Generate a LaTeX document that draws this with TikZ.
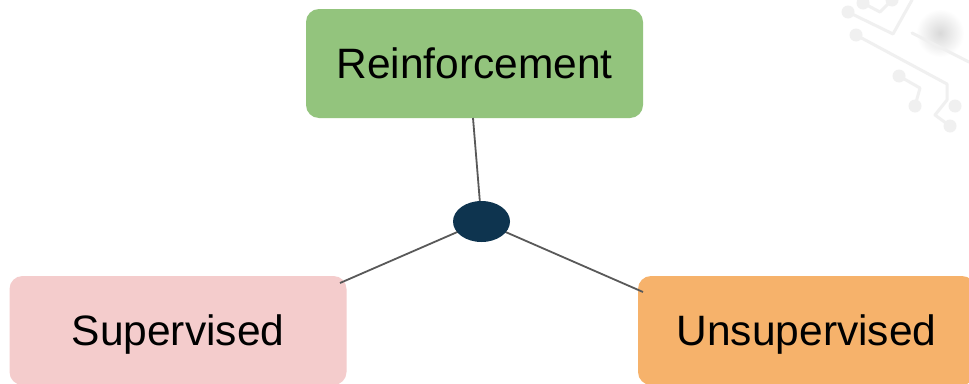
\documentclass[tikz,border=0pt]{standalone}
\usepackage{fontspec}
\setmainfont{Liberation Sans}
\usetikzlibrary{shapes.geometric}
\definecolor{rgreen}{HTML}{93C47D}
\definecolor{spink}{HTML}{F4CCCC}
\definecolor{uorange}{HTML}{F6B26B}
\definecolor{navy}{HTML}{0E344F}
\definecolor{linegray}{HTML}{595959}
\definecolor{circ}{HTML}{F0F0F0}
\tikzset{
  catbox/.style={rectangle, rounded corners=13pt, draw=none, minimum width=337pt, minimum height=109pt,
    inner sep=0pt, font=\fontsize{42.5}{50}\selectfont, text height=30pt, text depth=0pt, text=black},
  link/.style={draw=linegray, line width=1.8pt},
  hubdot/.style={ellipse, fill=navy, draw=none, minimum width=57pt, minimum height=41pt, inner sep=0pt},
  circuit/.style={draw=circ, line width=3pt, line cap=round, line join=round},
  pad/.style={circle, fill=circ, draw=none, minimum size=13pt, inner sep=0pt}
}
\begin{document}
\begin{tikzpicture}[x=1pt,y=-1pt]
\clip (0,0) rectangle (969,383);
\fill[white] (0,0) rectangle (969,383);
% faint circuit decoration
\shade[inner color=gray!30, outer color=white] (940,33) circle (24);
\draw[circuit] (848,12) -- (893,34) -- (912,0);
\draw[circuit] (912,33) -- (969,62);
\draw[circuit] (856,35) -- (947,84) -- (947,100) -- (935,115) -- (950,126);
\draw[circuit] (899,76) -- (920,88) -- (915,106);
\draw[circuit] (863,3) -- (880,12) -- (892,0);
\node[pad] (p1) at (848,12) {};
\node[pad] (p2) at (863,3) {};
\node[pad] (p3) at (892,0) {};
\node[pad] (p4) at (856,35) {};
\node[pad] (p5) at (899,76) {};
\node[pad] (p6) at (915,106) {};
\node[pad] (p7) at (955,106) {};
\node[pad] (p8) at (950,126) {};
% boxes
\node[catbox, fill=rgreen] (rein) at (474.5,63.5) {Reinforcement};
\node[catbox, fill=spink] (sup) at (178,330.5) {Supervised};
\node[catbox, fill=uorange] (uns) at (806.5,330.5) {Unsupervised};
% connector end points on the boxes
\coordinate (rend) at (473,118);
\coordinate (send) at (340,283);
\coordinate (uend) at (643,292);
\coordinate (hubc) at (481.5,221.5);
\draw[link] (hubc) -- (rend);
\draw[link] (hubc) -- (send);
\draw[link] (hubc) -- (uend);
\node[hubdot] (hub) at (hubc) {};
\end{tikzpicture}
\end{document}
